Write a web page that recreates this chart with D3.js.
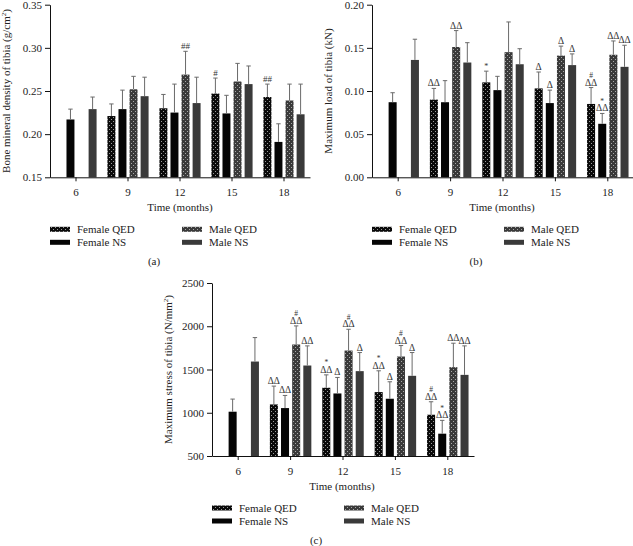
<!DOCTYPE html>
<html><head><meta charset="utf-8">
<script src="https://cdn.jsdelivr.net/npm/d3@7"></script>
<style>body{margin:0;background:#fff}svg{display:block}text{font-family:"Liberation Serif","Times New Roman",serif}</style>
</head><body><svg id="c" width="633" height="546"></svg>
<script>
const months = ["6", "9", "12", "15", "18"];
const seriesNames = ["Female QED", "Female NS", "Male QED", "Male NS"];

// (a) Bone mineral density (g/cm^2)
const bmdFemaleQED = [null, 0.221, 0.230, 0.247, 0.243];
const bmdFemaleQEDsd = [null, 0.014, 0.016, 0.018, 0.015];
const bmdFemaleNS = [0.217, 0.229, 0.225, 0.224, 0.191];
const bmdFemaleNSsd = [0.012, 0.022, 0.033, 0.021, 0.021];
const bmdMaleQED = [null, 0.252, 0.269, 0.261, 0.239];
const bmdMaleQEDsd = [null, 0.015, 0.027, 0.021, 0.019];
const bmdMaleNS = [0.229, 0.244, 0.236, 0.258, 0.223];
const bmdMaleNSsd = [0.014, 0.022, 0.030, 0.021, 0.035];
const bmdMarksFemaleQED = ["", "", "", "#", "##"];
const bmdMarksFemaleNS = ["", "", "", "", ""];
const bmdMarksMaleQED = ["", "", "##", "", ""];
const bmdMarksMaleNS = ["", "", "", "", ""];
const bmdTicks = [0.15, 0.20, 0.25, 0.30, 0.35];

// (b) Maximum load (kN)
const loadFemaleQED = [null, 0.090, 0.110, 0.103, 0.085];
const loadFemaleQEDsd = [null, 0.013, 0.013, 0.019, 0.019];
const loadFemaleNS = [0.087, 0.087, 0.101, 0.086, 0.062];
const loadFemaleNSsd = [0.011, 0.025, 0.016, 0.015, 0.012];
const loadMaleQED = [null, 0.151, 0.145, 0.141, 0.142];
const loadMaleQEDsd = [null, 0.019, 0.035, 0.011, 0.016];
const loadMaleNS = [0.136, 0.133, 0.131, 0.130, 0.128];
const loadMaleNSsd = [0.024, 0.023, 0.018, 0.013, 0.025];
const loadMarksFemaleQED = ["", "ΔΔ", "*", "Δ", "#|ΔΔ"];
const loadMarksFemaleNS = ["", "", "", "Δ", "*|ΔΔ"];
const loadMarksMaleQED = ["", "ΔΔ", "", "Δ", "ΔΔ"];
const loadMarksMaleNS = ["", "", "", "Δ", "ΔΔ"];
const loadTicks = [0.00, 0.05, 0.10, 0.15, 0.20];

// (c) Maximum stress (N/mm^2)
const stressFemaleQED = [null, 1096, 1289, 1239, 977];
const stressFemaleQEDsd = [null, 212, 149, 246, 150];
const stressFemaleNS = [1012, 1054, 1223, 1162, 758];
const stressFemaleNSsd = [146, 146, 185, 196, 154];
const stressMaleQED = [null, 1789, 1719, 1650, 1527];
const stressMaleQEDsd = [null, 215, 246, 127, 277];
const stressMaleNS = [1592, 1546, 1481, 1427, 1438];
const stressMaleNSsd = [277, 227, 215, 269, 335];
const stressMarksFemaleQED = ["", "ΔΔ", "*|ΔΔ", "*|ΔΔ", "#|ΔΔ"];
const stressMarksFemaleNS = ["", "ΔΔ", "Δ", "Δ", "*|ΔΔ"];
const stressMarksMaleQED = ["", "#|ΔΔ", "#|ΔΔ", "#|ΔΔ", "ΔΔ"];
const stressMarksMaleNS = ["", "ΔΔ", "Δ", "Δ", "ΔΔ"];
const stressTicks = [500, 1000, 1500, 2000, 2500];

const svg = d3.select("#c");
svg.append("rect").attr("width", 633).attr("height", 546).attr("fill", "#fff");
const defs = svg.append("defs");
function dotPattern(id, bg, dot) {
  const p = defs.append("pattern").attr("id", id).attr("patternUnits", "userSpaceOnUse")
    .attr("width", 4).attr("height", 4);
  p.append("rect").attr("width", 4).attr("height", 4).attr("fill", bg);
  p.append("rect").attr("x", 1).attr("y", 1).attr("width", 1).attr("height", 1).attr("fill", dot);
  p.append("rect").attr("x", 3).attr("y", 3).attr("width", 1).attr("height", 1).attr("fill", dot);
}
dotPattern("pf", "#0a0a0a", "#9a9a9a");
dotPattern("pm", "#3a3a3a", "#a8a8a8");
const fills = ["url(#pf)", "#050505", "url(#pm)", "#3a3a3a"];
const txt = "#222";

function panel(o) {
  const g = svg.append("g");
  const x = d3.scaleBand().domain(months).range([o.x0, o.x1]);
  const xs = d3.scaleBand().domain(seriesNames).range([0, x.bandwidth()]).paddingInner(0.28).paddingOuter(0.49);
  const y = d3.scaleLinear().domain([o.ticks[0], o.ticks[o.ticks.length - 1]]).range([o.yb, o.yt]);

  seriesNames.forEach((s, si) => {
    months.forEach((m, mi) => {
      const v = o.means[si][mi];
      if (v == null) return;
      const sd = o.sds[si][mi];
      const bx = x(m) + xs(s), bw = xs.bandwidth(), cx = bx + bw / 2;
      g.append("rect").attr("x", bx).attr("y", y(v)).attr("width", bw)
        .attr("height", y(o.ticks[0]) - y(v)).attr("fill", fills[si]);
      const top = y(v + sd);
      g.append("line").attr("x1", cx).attr("x2", cx).attr("y1", y(v)).attr("y2", top)
        .attr("stroke", "#6a6a6a").attr("stroke-width", 1);
      g.append("line").attr("x1", cx - 2.2).attr("x2", cx + 2.2).attr("y1", top).attr("y2", top)
        .attr("stroke", "#6a6a6a").attr("stroke-width", 1);
      const mk = o.marks[si][mi];
      if (mk) {
        const lines = mk.split("|");
        let base = top - 2;
        for (let k = lines.length - 1; k >= 0; k--) {
          const t = lines[k];
          const isD = t.indexOf("Δ") >= 0;
          const fs = isD ? 9.5 : (lines.length > 1 ? 7.5 : o.markSize);
          g.append("text").attr("x", cx).attr("y", base).attr("text-anchor", "middle")
            .attr("font-size", fs).attr("fill", "#333").text(t);
          base -= isD ? 7.5 : 6;
        }
      }
    });
  });

  const ax = g.append("g").attr("transform", `translate(0,${o.yb})`)
    .call(d3.axisBottom(x).tickSize(4).tickSizeOuter(0).tickPadding(7));
  ax.select(".domain").attr("stroke", "#111");
  ax.selectAll(".tick line").attr("stroke", "#111");
  ax.selectAll("text").attr("font-size", 11).attr("fill", txt)
    .attr("font-family", '"Liberation Serif","Times New Roman",serif');
  const ay = g.append("g").attr("transform", `translate(${o.x0},0)`)
    .call(d3.axisLeft(y).tickValues(o.ticks).tickFormat(o.fmt).tickSize(5).tickSizeOuter(0).tickPadding(3));
  ay.select(".domain").attr("stroke", "#111");
  ay.selectAll(".tick line").attr("stroke", "#111");
  ay.selectAll("text").attr("font-size", 11).attr("fill", txt)
    .attr("font-family", '"Liberation Serif","Times New Roman",serif');

  const cxm = (o.x0 + o.x1) / 2;
  g.append("text").attr("x", (o.x0 + 310 - 50 + o.x0) / 2 * 0 + o.x0 + 130).attr("y", o.yb + 34)
    .attr("text-anchor", "middle").attr("font-size", 11).attr("fill", txt).text("Time (months)");
  const yt = g.append("text").attr("transform", `translate(${o.x0 - 40},${(o.yt + o.yb) / 2}) rotate(-90)`)
    .attr("text-anchor", "middle").attr("font-size", 11).attr("fill", txt);
  yt.append("tspan").text(o.title);
  yt.append("tspan").attr("font-size", 7).attr("dy", -4).text("2");
  yt.append("tspan").attr("dy", 4).text(o.titleEnd);
  if (!o.sup) { yt.selectAll("tspan").remove(); yt.text(o.title); }

  // legend
  const lg = [[0, 0, 0], [1, 0, 1], [2, 132, 0], [3, 132, 1]];
  lg.forEach(([si, dx, row]) => {
    const ly = o.yb + 52 + row * 13;
    g.append("rect").attr("x", o.x0 + dx).attr("y", ly - 2.5).attr("width", 20).attr("height", 5).attr("fill", fills[si]);
    g.append("text").attr("x", o.x0 + dx + 27).attr("y", ly + 3.8).attr("font-size", 11).attr("fill", txt).text(seriesNames[si]);
  });
  g.append("text").attr("x", o.x0 + 104).attr("y", o.yb + 88).attr("text-anchor", "middle")
    .attr("font-size", 11).attr("fill", txt).text(o.label);
}

panel({
  x0: 50, x1: 310, yt: 4.7, yb: 177.3, ticks: bmdTicks, fmt: d3.format(".2f"),
  means: [bmdFemaleQED, bmdFemaleNS, bmdMaleQED, bmdMaleNS],
  sds: [bmdFemaleQEDsd, bmdFemaleNSsd, bmdMaleQEDsd, bmdMaleNSsd],
  marks: [bmdMarksFemaleQED, bmdMarksFemaleNS, bmdMarksMaleQED, bmdMarksMaleNS],
  markSize: 9, title: "Bone mineral density of tibia (g/cm", titleEnd: ")", sup: true, label: "(a)"
});
panel({
  x0: 372, x1: 634, yt: 4.7, yb: 177.3, ticks: loadTicks, fmt: d3.format(".2f"),
  means: [loadFemaleQED, loadFemaleNS, loadMaleQED, loadMaleNS],
  sds: [loadFemaleQEDsd, loadFemaleNSsd, loadMaleQEDsd, loadMaleNSsd],
  marks: [loadMarksFemaleQED, loadMarksFemaleNS, loadMarksMaleQED, loadMarksMaleNS],
  markSize: 8, title: "Maximum load of tibia (kN)", sup: false, label: "(b)"
});
panel({
  x0: 212, x1: 474, yt: 283, yb: 456, ticks: stressTicks, fmt: d3.format("d"),
  means: [stressFemaleQED, stressFemaleNS, stressMaleQED, stressMaleNS],
  sds: [stressFemaleQEDsd, stressFemaleNSsd, stressMaleQEDsd, stressMaleNSsd],
  marks: [stressMarksFemaleQED, stressMarksFemaleNS, stressMarksMaleQED, stressMarksMaleNS],
  markSize: 8, title: "Maximum stress of tibia (N/mm", titleEnd: ")", sup: true, label: "(c)"
});
</script></body></html>
